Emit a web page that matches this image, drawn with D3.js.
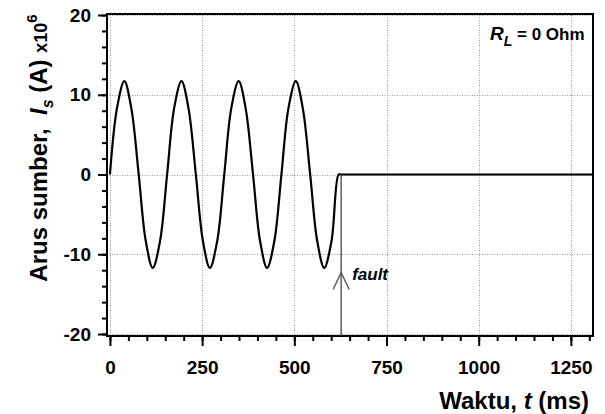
<!DOCTYPE html>
<html lang="en">
<head>
    <meta charset="UTF-8">
    <title>Arus sumber</title>
    <style>
        body, html {
            margin: 0;
            padding: 0;
            background-color: #ffffff;
        }
        svg text {
            font-family: Arial, "Liberation Sans", sans-serif;
            font-weight: bold;
            white-space: pre;
        }
    </style>
</head>
<body>
    <div id="chart"></div>

    <script src="https://d3js.org/d3.v7.min.js"></script>
    <script>
        // Data: time (ms) and source current (x10^6 A)
        const timeMs = [0, 19, 39, 58, 78, 97, 116, 136,
                        155, 174, 194, 213, 233, 252, 271, 291,
                        310, 329, 349, 368, 388, 407, 426, 446,
                        465, 484, 504, 523, 543, 562, 581, 601,
                        620, 626, 1310];
        const current = [0, 8.3, 11.7, 8.3, 0, -8.3, -11.7, -8.3,
                         0, 8.3, 11.7, 8.3, 0, -8.3, -11.7, -8.3,
                         0, 8.3, 11.7, 8.3, 0, -8.3, -11.7, -8.3,
                         0, 8.3, 11.7, 8.3, 0, -8.3, -11.7, -8.3,
                         0, 0, 0];
        const xTicks = [0, 250, 500, 750, 1000, 1250];
        const yTicks = [-20, -10, 0, 10, 20];
        const faultTime = 627;

        const width = 605, height = 414;
        const fmt = d => String(d);

        const svg = d3.select("#chart").append("svg")
            .attr("width", width)
            .attr("height", height);

        const x = d3.scaleLinear().domain([-8, 1310]).range([107, 593]);
        const y = d3.scaleLinear().domain([-20.25, 20.13]).range([336, 14]);

        const xMinor = d3.range(0, 1301, 50);
        const yMinor = d3.range(-20, 21, 2);

        // dotted grid
        const grid = svg.append("g")
            .attr("stroke", "#999")
            .attr("stroke-width", 1)
            .attr("stroke-dasharray", "1,1.5");
        grid.selectAll("line.gx").data(xTicks).join("line")
            .attr("class", "gx")
            .attr("x1", d => Math.round(x(d)) + 0.5).attr("x2", d => Math.round(x(d)) + 0.5)
            .attr("y1", y.range()[0]).attr("y2", y.range()[1]);
        grid.selectAll("line.gy").data(yTicks).join("line")
            .attr("class", "gy")
            .attr("x1", x.range()[0]).attr("x2", x.range()[1])
            .attr("y1", d => Math.round(y(d)) + 0.5).attr("y2", d => Math.round(y(d)) + 0.5);

        // minor ticks
        svg.append("g")
            .attr("transform", `translate(0,${y.range()[0]})`)
            .call(d3.axisBottom(x).tickValues(xMinor).tickSize(5).tickFormat(""))
            .call(g => g.select(".domain").remove())
            .selectAll("line").attr("stroke-width", 2);
        svg.append("g")
            .attr("transform", `translate(${x.range()[0]},0)`)
            .call(d3.axisLeft(y).tickValues(yMinor).tickSize(5).tickFormat(""))
            .call(g => g.select(".domain").remove())
            .selectAll("line").attr("stroke-width", 2);

        // major ticks with labels
        const xAxis = svg.append("g")
            .attr("transform", `translate(0,${y.range()[0]})`)
            .call(d3.axisBottom(x).tickValues(xTicks).tickFormat(fmt)
                .tickSize(10).tickPadding(15).tickSizeOuter(0));
        xAxis.select(".domain").remove();
        xAxis.selectAll("line").attr("stroke-width", 2);
        xAxis.selectAll("text").attr("font-size", 19).attr("fill", "#000");

        const yAxis = svg.append("g")
            .attr("transform", `translate(${x.range()[0]},0)`)
            .call(d3.axisLeft(y).tickValues(yTicks).tickFormat(fmt)
                .tickSize(9).tickPadding(7).tickSizeOuter(0));
        yAxis.select(".domain").remove();
        yAxis.selectAll("line").attr("stroke-width", 2);
        yAxis.selectAll("text").attr("font-size", 19).attr("fill", "#000");

        // frame
        svg.append("rect")
            .attr("x", x.range()[0]).attr("y", y.range()[1])
            .attr("width", x.range()[1] - x.range()[0])
            .attr("height", y.range()[0] - y.range()[1])
            .attr("fill", "none")
            .attr("stroke", "#000")
            .attr("stroke-width", 2);

        // current trace
        const points = timeMs.map((t, i) => [t, current[i]]);
        svg.append("path")
            .datum(points)
            .attr("fill", "none")
            .attr("stroke", "#000")
            .attr("stroke-width", 2.2)
            .attr("d", d3.line()
                .x(d => x(d[0]))
                .y(d => y(d[1]))
                .curve(d3.curveCatmullRom.alpha(0.5)));

        // fault marker
        const fx = x(faultTime);
        svg.append("line")
            .attr("x1", fx).attr("x2", fx)
            .attr("y1", y(0)).attr("y2", y.range()[0])
            .attr("stroke", "#444").attr("stroke-width", 1.3);
        svg.append("path")
            .attr("d", `M${fx - 8},${y(-14.4)} L${fx},${y(-12.3)} L${fx + 8},${y(-14.4)}`)
            .attr("fill", "none")
            .attr("stroke", "#555").attr("stroke-width", 1.3);
        svg.append("text")
            .attr("x", fx + 11).attr("y", y(-13.2))
            .attr("font-size", 17).attr("font-style", "italic")
            .text("fault");

        // R_L label
        const rl = svg.append("text")
            .attr("x", 490).attr("y", 40)
            .attr("font-size", 17);
        rl.append("tspan").attr("font-style", "italic").attr("font-size", 19).text("R");
        rl.append("tspan").attr("font-style", "italic").attr("font-size", 14).attr("dy", 6).text("L");
        rl.append("tspan").attr("dy", -6).text(" = 0 Ohm");

        // x title
        const xt = svg.append("text")
            .attr("x", 589).attr("y", 409)
            .attr("text-anchor", "end")
            .attr("font-size", 24);
        xt.append("tspan").text("Waktu, ");
        xt.append("tspan").attr("font-style", "italic").text("t");
        xt.append("tspan").text(" (ms)");

        // y title
        const yt = svg.append("text")
            .attr("transform", "translate(47,148) rotate(-90)")
            .attr("text-anchor", "middle")
            .attr("font-size", 24);
        yt.append("tspan").text("Arus sumber,  ");
        yt.append("tspan").attr("font-style", "italic").text("I");
        yt.append("tspan").attr("font-size", 16).attr("dy", 6).attr("font-style", "italic").text("s");
        yt.append("tspan").attr("dy", -6).text(" (A) ");
        yt.append("tspan").attr("font-size", 18).text("x10");
        yt.append("tspan").attr("font-size", 15).attr("dy", -10).text("6");
    </script>
</body>
</html>
